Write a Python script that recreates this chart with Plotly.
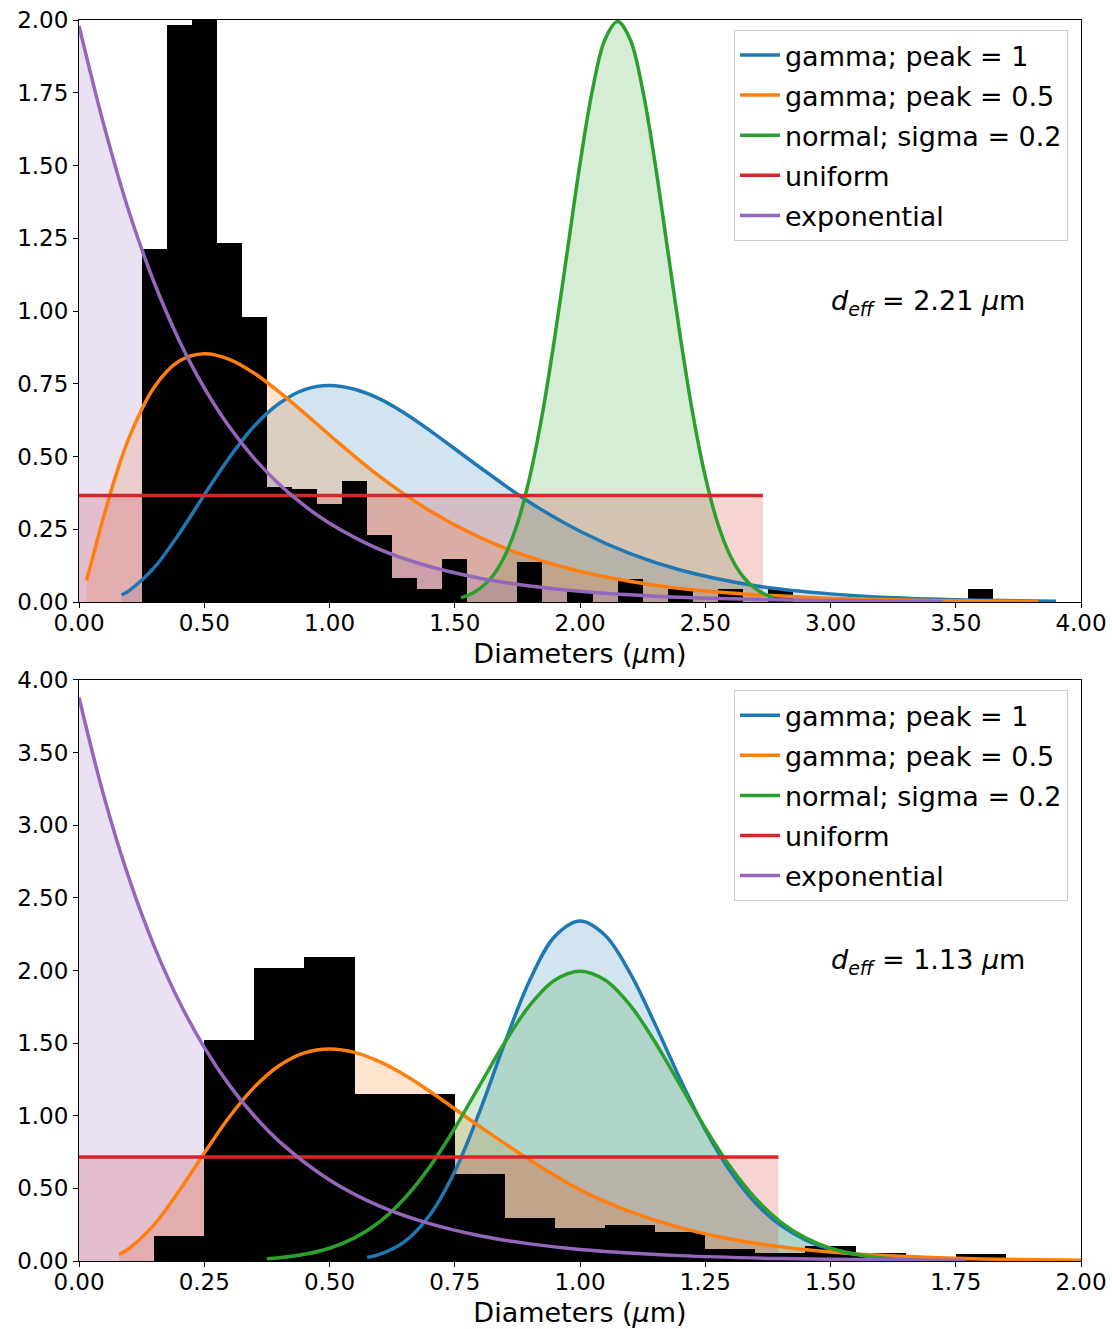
import plotly.graph_objects as go

FONT = "DejaVu Sans"
BLUE, ORANGE, GREEN, RED, PURPLE = "#1f77b4", "#ff7f0e", "#2ca02c", "#d62728", "#9467bd"

LABELS = ["gamma; peak = 1", "gamma; peak = 0.5", "normal; sigma = 0.2", "uniform", "exponential"]
COLORS = [BLUE, ORANGE, GREEN, RED, PURPLE]
FILLS = ["rgba(31,119,180,0.2)", "rgba(255,127,14,0.2)", "rgba(44,160,44,0.2)",
         "rgba(214,39,40,0.2)", "rgba(148,103,189,0.2)"]

# ---------------- upper panel (d_eff = 2.21 um) ----------------
top_bin_centers = [0.3, 0.4, 0.5, 0.6, 0.7, 0.8, 0.9, 1.0, 1.1, 1.2, 1.3, 1.4, 1.5,
                   1.8, 2.0, 2.2, 2.4, 2.6, 2.8, 3.6]
top_bin_heights = [1.212, 1.982, 2.03, 1.233, 0.978, 0.394, 0.390, 0.337, 0.417, 0.230,
                   0.081, 0.046, 0.148, 0.136, 0.035, 0.079, 0.045, 0.045, 0.044, 0.045]

top_gamma1_x = [0.17, 0.2, 0.3, 0.4, 0.5, 0.6, 0.7, 0.8, 0.9, 1.0, 1.1, 1.2, 1.3, 1.4,
                1.6, 1.8, 2.0, 2.2, 2.4, 2.7, 3.0, 3.4, 3.9]
top_gamma1_y = [0.024, 0.039, 0.118, 0.235, 0.368, 0.496, 0.605, 0.683, 0.730, 0.744,
                0.731, 0.698, 0.649, 0.590, 0.463, 0.342, 0.243, 0.166, 0.110, 0.056,
                0.028, 0.010, 0.003]

top_gamma05_x = [0.03, 0.05, 0.1, 0.15, 0.2, 0.3, 0.4, 0.5, 0.6, 0.7, 0.8, 0.9, 1.0,
                 1.2, 1.4, 1.6, 1.8, 2.0, 2.3, 2.6, 3.0, 3.4, 3.83]
top_gamma05_y = [0.075, 0.138, 0.298, 0.443, 0.565, 0.738, 0.828, 0.853, 0.834, 0.786,
                 0.721, 0.649, 0.574, 0.432, 0.314, 0.222, 0.154, 0.105, 0.058, 0.031,
                 0.013, 0.0055, 0.002]

top_normal_x = [1.525, 1.55, 1.6, 1.65, 1.7, 1.75, 1.8, 1.85, 1.9, 1.95, 2.0, 2.05, 2.1,
                2.15, 2.2, 2.25, 2.3, 2.35, 2.4, 2.45, 2.5, 2.55, 2.6, 2.65, 2.7, 2.75, 2.775]
top_normal_y = [0.015, 0.022, 0.046, 0.088, 0.159, 0.270, 0.432, 0.648, 0.914, 1.210,
                1.506, 1.761, 1.934, 1.995, 1.934, 1.761, 1.506, 1.210, 0.914, 0.648,
                0.432, 0.270, 0.159, 0.088, 0.046, 0.022, 0.015]

top_uniform_x = [0.0, 2.73]
top_uniform_y = [0.366, 0.366]

top_expon_x = [0.0, 0.1, 0.2, 0.3, 0.4, 0.5, 0.6, 0.7, 0.8, 0.9, 1.0, 1.2, 1.4, 1.6,
               1.8, 2.0, 2.3, 2.6, 3.0, 3.45]
top_expon_y = [1.98, 1.637, 1.34, 1.098, 0.899, 0.736, 0.602, 0.493, 0.404, 0.331, 0.271,
               0.181, 0.122, 0.082, 0.055, 0.037, 0.020, 0.011, 0.005, 0.002]

# ---------------- lower panel (d_eff = 1.13 um) ----------------
bot_bin_centers = [0.2, 0.3, 0.4, 0.5, 0.6, 0.7, 0.8, 0.9, 1.0, 1.1, 1.2, 1.3, 1.4,
                   1.5, 1.6, 1.7, 1.8]
bot_bin_heights = [0.172, 1.521, 2.019, 2.096, 1.148, 1.148, 0.597, 0.294, 0.229, 0.246,
                   0.202, 0.080, 0.057, 0.101, 0.053, 0.020, 0.046]

bot_gamma1_x = [0.575, 0.6, 0.65, 0.7, 0.75, 0.8, 0.85, 0.9, 0.95, 1.0, 1.05, 1.1, 1.15,
                1.2, 1.25, 1.3, 1.35, 1.4, 1.45, 1.5, 1.6, 1.7]
bot_gamma1_y = [0.025, 0.046, 0.134, 0.315, 0.616, 1.032, 1.503, 1.935, 2.235, 2.34,
                2.242, 1.982, 1.629, 1.251, 0.904, 0.617, 0.400, 0.247, 0.146, 0.082,
                0.024, 0.006]

bot_gamma05_x = [0.08, 0.1, 0.15, 0.2, 0.25, 0.3, 0.35, 0.4, 0.45, 0.5, 0.55, 0.6, 0.65,
                 0.7, 0.8, 0.9, 1.0, 1.1, 1.2, 1.3, 1.4, 1.5, 1.6, 1.7, 1.8, 2.0]
bot_gamma05_y = [0.045, 0.086, 0.250, 0.483, 0.743, 0.991, 1.197, 1.346, 1.433, 1.46,
                 1.436, 1.372, 1.280, 1.169, 0.926, 0.695, 0.490, 0.340, 0.230, 0.151,
                 0.098, 0.062, 0.039, 0.024, 0.014, 0.005]

bot_normal_x = [0.375, 0.4, 0.45, 0.5, 0.55, 0.6, 0.65, 0.7, 0.75, 0.8, 0.85, 0.9, 0.95,
                1.0, 1.05, 1.1, 1.15, 1.2, 1.25, 1.3, 1.35, 1.4, 1.45, 1.5, 1.55, 1.6, 1.625]
bot_normal_y = [0.015, 0.022, 0.046, 0.088, 0.159, 0.270, 0.432, 0.648, 0.914, 1.210,
                1.506, 1.761, 1.934, 1.995, 1.934, 1.761, 1.506, 1.210, 0.914, 0.648,
                0.432, 0.270, 0.159, 0.088, 0.046, 0.022, 0.015]

bot_uniform_x = [0.0, 1.396]
bot_uniform_y = [0.716, 0.716]

bot_expon_x = [0.0, 0.05, 0.1, 0.15, 0.2, 0.25, 0.3, 0.35, 0.4, 0.5, 0.6, 0.7, 0.8, 0.9,
               1.0, 1.2, 1.4, 1.6, 1.77]
bot_expon_y = [3.88, 3.196, 2.632, 2.168, 1.786, 1.471, 1.211, 0.998, 0.822, 0.558, 0.378,
               0.257, 0.174, 0.118, 0.080, 0.037, 0.017, 0.008, 0.004]

panels = [
    dict(base=("x", "y"), over=("x3", "y3"), legend="legend", group="t",
         bins=(top_bin_centers, top_bin_heights),
         curves=[(top_gamma1_x, top_gamma1_y), (top_gamma05_x, top_gamma05_y),
                 (top_normal_x, top_normal_y), (top_uniform_x, top_uniform_y),
                 (top_expon_x, top_expon_y)]),
    dict(base=("x2", "y2"), over=("x4", "y4"), legend="legend2", group="b",
         bins=(bot_bin_centers, bot_bin_heights),
         curves=[(bot_gamma1_x, bot_gamma1_y), (bot_gamma05_x, bot_gamma05_y),
                 (bot_normal_x, bot_normal_y), (bot_uniform_x, bot_uniform_y),
                 (bot_expon_x, bot_expon_y)]),
]

fig = go.Figure()

for p in panels:
    bx, by = p["base"]
    ox, oy = p["over"]
    # translucent areas under each distribution, kept beneath the histogram
    for (cx, cy), fc in zip(p["curves"], FILLS):
        fig.add_trace(go.Scatter(
            x=cx, y=cy, mode="lines", line=dict(width=0, shape="spline"),
            fill="tozeroy", fillcolor=fc, showlegend=False, hoverinfo="skip",
            xaxis=bx, yaxis=by))
    # measured size histogram
    cxs, hs = p["bins"]
    fig.add_trace(go.Bar(
        x=cxs, y=hs, width=[0.1] * len(cxs), marker=dict(color="black", line=dict(width=0)),
        showlegend=False, xaxis=ox, yaxis=oy))
    # distribution curves on top
    for i, ((cx, cy), col, lab) in enumerate(zip(p["curves"], COLORS, LABELS)):
        fig.add_trace(go.Scatter(
            x=cx, y=cy, mode="lines", name=lab,
            line=dict(color=col, width=3.5, shape="spline"),
            legend=p["legend"], legendgroup=f"{p['group']}{i}",
            xaxis=ox, yaxis=oy))

axis_common = dict(
    showline=True, mirror=True, linecolor="black", linewidth=1,
    ticks="outside", ticklen=5, tickwidth=1, tickcolor="black",
    showgrid=False, zeroline=False, tickformat=".2f", tickmode="linear", tick0=0,
    tickfont=dict(family=FONT, size=23, color="black"),
)
x_axis_extra = dict(ticklabelstandoff=-5)
xtitle = dict(text="Diameters (<i>μ</i>m)", font=dict(family=FONT, size=27, color="black"),
              standoff=9)

TOP_DOM = [0.531, 1.0]
BOT_DOM = [0.0, 0.4682]

legend_common = dict(
    bgcolor="rgba(255,255,255,0.85)", bordercolor="#cccccc", borderwidth=1,
    font=dict(family=FONT, size=27, color="black"),
    xanchor="right", yanchor="top", traceorder="grouped", tracegroupgap=2,
    itemwidth=40,
)

fig.update_layout(
    width=1112, height=1329,
    margin=dict(l=79, r=31, t=20, b=68, autoexpand=False),
    plot_bgcolor="white", paper_bgcolor="white",
    font=dict(family=FONT, size=23, color="black"),
    barmode="overlay", bargap=0,
    xaxis=dict(axis_common, **x_axis_extra, domain=[0, 1], range=[0, 4], dtick=0.5,
               anchor="y", title=xtitle),
    yaxis=dict(axis_common, domain=TOP_DOM, range=[0, 2], dtick=0.25, anchor="x"),
    xaxis2=dict(axis_common, **x_axis_extra, domain=[0, 1], range=[0, 2], dtick=0.25,
                anchor="y2", title=xtitle),
    yaxis2=dict(axis_common, domain=BOT_DOM, range=[0, 4], dtick=0.5, anchor="x2"),
    xaxis3=dict(overlaying="x", range=[0, 4], visible=False, showgrid=False),
    yaxis3=dict(overlaying="y", range=[0, 2], visible=False, showgrid=False),
    xaxis4=dict(overlaying="x2", range=[0, 2], visible=False, showgrid=False),
    yaxis4=dict(overlaying="y2", range=[0, 4], visible=False, showgrid=False),
    legend=dict(legend_common, x=0.987, y=0.992),
    legend2=dict(legend_common, x=0.987, y=0.460),
    showlegend=True,
)

fig.add_annotation(x=3.39, y=1.03, xref="x", yref="y", showarrow=False,
                   text="<i>d</i><sub><i>eff</i></sub> = 2.21 <i>μ</i>m",
                   font=dict(family=FONT, size=27, color="black"))
fig.add_annotation(x=1.695, y=2.06, xref="x2", yref="y2", showarrow=False,
                   text="<i>d</i><sub><i>eff</i></sub> = 1.13 <i>μ</i>m",
                   font=dict(family=FONT, size=27, color="black"))

fig.write_html("out.html")
